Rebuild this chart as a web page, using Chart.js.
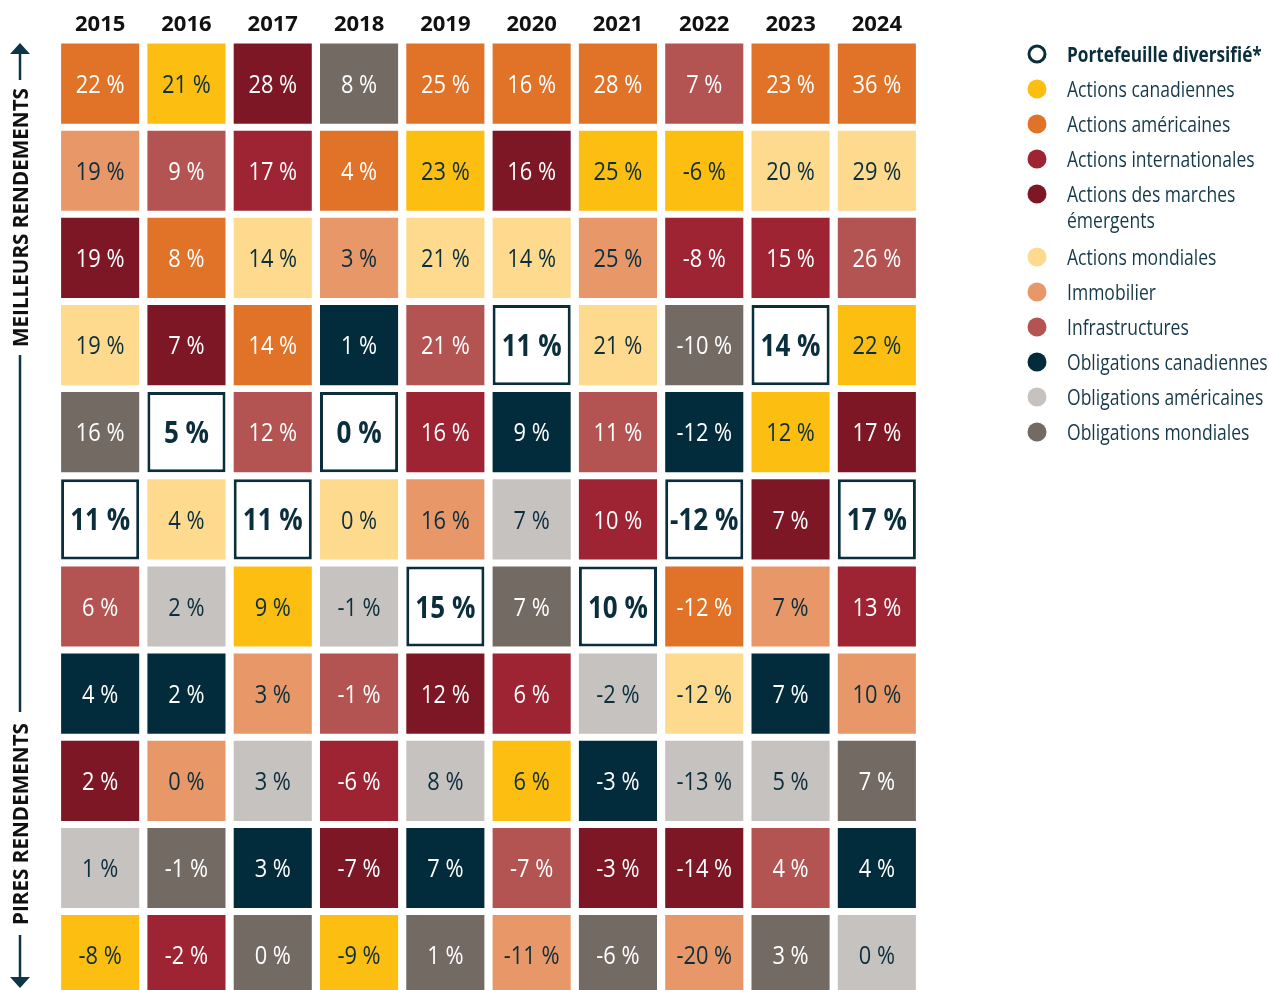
<!DOCTYPE html>
<html lang="fr">
<head>
<meta charset="utf-8">
<title>Rendements par catégorie d'actif</title>
<script src="https://cdn.jsdelivr.net/npm/chart.js@4.4.1/dist/chart.umd.min.js"></script>
<style>
  html, body { margin: 0; padding: 0; background: #fff; }
  #wrap { position: relative; width: 1269px; height: 990px; }
</style>
</head>
<body>
<div id="wrap"><canvas id="chart"></canvas></div>
<script>
// Years across the top
const years = ['2015', '2016', '2017', '2018', '2019', '2020', '2021', '2022', '2023', '2024'];

// Asset classes (legend order)
const assetCodes = ['port', 'can', 'us', 'intl', 'em', 'mond', 'immo', 'infra', 'obCan', 'obUS', 'obMond'];
const assetLabels = [
  'Portefeuille diversifié*',
  'Actions canadiennes',
  'Actions américaines',
  'Actions internationales',
  ['Actions des marches', 'émergents'],
  'Actions mondiales',
  'Immobilier',
  'Infrastructures',
  'Obligations canadiennes',
  'Obligations américaines',
  'Obligations mondiales',
];
const assetColors = ['#FFFFFF', '#FDBE12', '#E07328', '#9E2333', '#7D1726', '#FEDA8E', '#E89868', '#B35453', '#022C3C', '#C6C2BF', '#736A64'];
const darkTextAssets = ['port', 'can', 'mond', 'immo', 'obUS'];

// Returns (%) ranked best -> worst, one array per rank, one value per year
const returns = [
  [22, 21, 28, 8, 25, 16, 28, 7, 23, 36],
  [19, 9, 17, 4, 23, 16, 25, -6, 20, 29],
  [19, 8, 14, 3, 21, 14, 25, -8, 15, 26],
  [19, 7, 14, 1, 21, 11, 21, -10, 14, 22],
  [16, 5, 12, 0, 16, 9, 11, -12, 12, 17],
  [11, 4, 11, 0, 16, 7, 10, -12, 7, 17],
  [6, 2, 9, -1, 15, 7, 10, -12, 7, 13],
  [4, 2, 3, -1, 12, 6, -2, -12, 7, 10],
  [2, 0, 3, -6, 8, 6, -3, -13, 5, 7],
  [1, -1, 3, -7, 7, -7, -3, -14, 4, 4],
  [-8, -2, 0, -9, 1, -11, -6, -20, 3, 0],
];

// Asset class of each cell, same shape as returns
const assets = [
  ['us', 'can', 'em', 'obMond', 'us', 'us', 'us', 'infra', 'us', 'us'],
  ['immo', 'infra', 'intl', 'us', 'can', 'em', 'can', 'can', 'mond', 'mond'],
  ['em', 'us', 'mond', 'immo', 'mond', 'mond', 'immo', 'intl', 'intl', 'infra'],
  ['mond', 'em', 'us', 'obCan', 'infra', 'port', 'mond', 'obMond', 'port', 'can'],
  ['obMond', 'port', 'infra', 'port', 'intl', 'obCan', 'infra', 'obCan', 'can', 'em'],
  ['port', 'mond', 'port', 'mond', 'immo', 'obUS', 'intl', 'port', 'em', 'port'],
  ['infra', 'obUS', 'can', 'obUS', 'port', 'obMond', 'port', 'us', 'immo', 'intl'],
  ['obCan', 'obCan', 'immo', 'infra', 'em', 'intl', 'obUS', 'mond', 'obCan', 'immo'],
  ['em', 'immo', 'obUS', 'intl', 'obUS', 'can', 'obCan', 'obUS', 'obUS', 'obMond'],
  ['obUS', 'obMond', 'obCan', 'em', 'obCan', 'infra', 'em', 'em', 'infra', 'obCan'],
  ['can', 'intl', 'obMond', 'can', 'obMond', 'immo', 'obMond', 'immo', 'obMond', 'obUS'],
];

const NAVY = '#0B2E3D';
const FONT = '"Open Sans", "Noto Sans", sans-serif';

function colorOf(code) {
  return assetColors[assetCodes.indexOf(code)];
}

// draw text squeezed horizontally (the original uses a condensed face)
function squeezeText(ctx, text, x, y, sx) {
  ctx.save();
  ctx.translate(x, y);
  ctx.scale(sx, 1);
  ctx.fillText(text, 0, 0);
  ctx.restore();
}

// ── Cell labels ────────────────────────────────────────────────────────────
const cellLabels = {
  id: 'cellLabels',
  afterDatasetsDraw(chart) {
    const ctx = chart.ctx;
    ctx.save();
    ctx.textAlign = 'center';
    ctx.textBaseline = 'alphabetic';
    chart.data.datasets.forEach((ds, r) => {
      chart.getDatasetMeta(r).data.forEach((el, i) => {
        const p = el.getProps(['x', 'y', 'base'], true);
        const cy = (p.y + p.base) / 2;
        const code = assets[r][i];
        const isPort = code === 'port';
        const size = isPort ? 31 : 26;
        ctx.font = (isPort ? 'bold ' : '') + size + 'px ' + FONT;
        ctx.fillStyle = darkTextAssets.includes(code) ? NAVY : '#FFFFFF';
        squeezeText(ctx, returns[r][i] + ' %', p.x, cy + size * 0.357, 0.84);
      });
    });
    ctx.restore();
  }
};

// ── Side arrows + legend ───────────────────────────────────────────────────
function arrowHead(ctx, x, tipY, dir) {
  ctx.beginPath();
  ctx.moveTo(x, tipY);
  ctx.lineTo(x - 10, tipY + dir * 11);
  ctx.lineTo(x + 10, tipY + dir * 11);
  ctx.closePath();
  ctx.fill();
}

function verticalText(ctx, text, x, yStart, yEnd) {
  ctx.save();
  ctx.translate(x, (yStart + yEnd) / 2);
  ctx.rotate(-Math.PI / 2);
  const w = ctx.measureText(text).width;
  ctx.scale((yEnd - yStart) / w, 1);
  ctx.fillText(text, 0, 0);
  ctx.restore();
}

const sideDecor = {
  id: 'sideDecor',
  afterDraw(chart) {
    const ctx = chart.ctx;
    const x = 20;
    ctx.save();
    ctx.strokeStyle = '#0E3646';
    ctx.fillStyle = '#0E3646';
    ctx.lineWidth = 2.5;
    ctx.beginPath();
    ctx.moveTo(x, 52); ctx.lineTo(x, 80);
    ctx.moveTo(x, 355); ctx.lineTo(x, 712);
    ctx.moveTo(x, 935); ctx.lineTo(x, 978);
    ctx.stroke();
    arrowHead(ctx, x, 43, 1);
    arrowHead(ctx, x, 988, -1);

    ctx.fillStyle = '#111111';
    ctx.font = 'bold 22px ' + FONT;
    ctx.textAlign = 'center';
    ctx.textBaseline = 'alphabetic';
    verticalText(ctx, 'MEILLEURS RENDEMENTS', x + 8, 88, 347);
    verticalText(ctx, 'PIRES RENDEMENTS', x + 8, 723, 925);
    ctx.restore();

    // legend
    ctx.save();
    ctx.textAlign = 'left';
    ctx.textBaseline = 'alphabetic';
    let y = 54;
    assetCodes.forEach((code, k) => {
      const lines = [].concat(assetLabels[k]);
      ctx.beginPath();
      if (code === 'port') {
        ctx.arc(1037, y, 8, 0, Math.PI * 2);
        ctx.fillStyle = '#FFFFFF';
        ctx.fill();
        ctx.lineWidth = 3;
        ctx.strokeStyle = NAVY;
        ctx.stroke();
      } else {
        ctx.arc(1037, y, 9.5, 0, Math.PI * 2);
        ctx.fillStyle = colorOf(code);
        ctx.fill();
      }
      ctx.fillStyle = code === 'port' ? NAVY : '#16394A';
      ctx.font = (code === 'port' ? 'bold ' : '') + '21px ' + FONT;
      lines.forEach((t, j) => squeezeText(ctx, t, 1067, y + 7.5 + j * 26, code === 'port' ? 0.82 : 0.835));
      y += 35 + (lines.length - 1) * 28;
    });
    ctx.restore();
  }
};

// ── Chart ─────────────────────────────────────────────────────────────────
const datasets = returns.map((row, r) => ({
  label: 'Rang ' + (r + 1),
  data: row.map(() => [r - 0.46, r + 0.46]),
  backgroundColor: assets[r].map(colorOf),
  borderColor: assets[r].map(a => a === 'port' ? NAVY : 'rgba(0,0,0,0)'),
  borderWidth: assets[r].map(a => a === 'port' ? 3 : 0),
  borderSkipped: false,
  grouped: false,
  categoryPercentage: 1,
  barPercentage: 0.905,
}));

new Chart(document.getElementById('chart'), {
  type: 'bar',
  data: { labels: years, datasets },
  options: {
    responsive: true,
    maintainAspectRatio: false,
    animation: false,
    layout: { padding: { left: 57, right: 349, top: 0, bottom: 0 } },
    plugins: {
      legend: { display: false },
      tooltip: { enabled: false },
    },
    scales: {
      x: {
        position: 'top',
        grid: { display: false, drawTicks: false },
        border: { display: false },
        ticks: { color: '#111111', font: { family: FONT, size: 22, weight: 'bold' }, padding: 2 },
        afterFit: s => { s.height = 40; },
      },
      y: {
        display: false,
        reverse: true,
        min: -0.5,
        max: 10.4,
      }
    }
  },
  plugins: [cellLabels, sideDecor]
});
</script>
</body>
</html>
